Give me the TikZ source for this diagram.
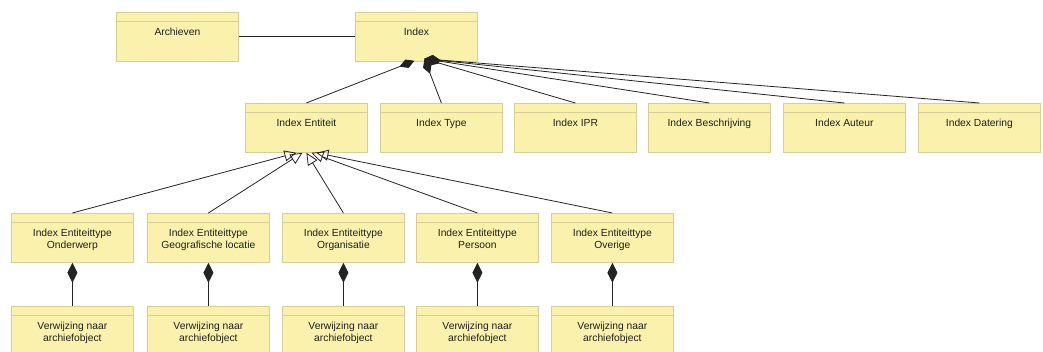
\documentclass[tikz,border=0pt]{standalone}
\usepackage{fontspec}
\setmainfont{Liberation Sans}
\usetikzlibrary{arrows.meta}
\definecolor{clsfill}{RGB}{250,242,172}
\definecolor{clsline}{RGB}{214,206,150}
\definecolor{wire}{RGB}{35,35,35}
\definecolor{ink}{RGB}{30,30,30}

\tikzset{
  cls/.style={draw=clsline, fill=clsfill, line width=0.8pt,
    minimum width=122pt, minimum height=49pt, inner sep=0pt, anchor=north west,
    path picture={\draw[clsline, line width=0.8pt]
      ([yshift=-9pt]path picture bounding box.north west) --
      ([yshift=-9pt]path picture bounding box.north east);}},
  lbl/.style={anchor=north, inner sep=0pt, align=center, text=ink,
    font=\fontsize{10.3}{12}\selectfont},
  wirel/.style={draw=wire, line width=0.8pt},
  comp/.style={wirel, {Diamond[length=16pt,width=9pt]}-},
  compsmall/.style={wirel, {Diamond[length=20pt,width=10pt]}-},
  gen/.style={wirel, {Triangle[open,length=12pt,width=11pt]}-},
}

\begin{document}
\begin{tikzpicture}[x=1pt,y=-1pt]
  \useasboundingbox (0,0) rectangle (1043,352);
  \clip (0,0) rectangle (1043,352);

  % top row
  \node[cls] (arch) at (116,12) {};
  \node[cls] (idx)  at (355,12) {};

  % attributes of Index
  \node[cls] (ent) at (245,103) {};
  \node[cls] (typ) at (380,103) {};
  \node[cls] (ipr) at (514,103) {};
  \node[cls] (bes) at (648,103) {};
  \node[cls] (aut) at (783,103) {};
  \node[cls] (dat) at (918,103) {};

  % entity types
  \node[cls] (ond) at (11,213) {};
  \node[cls] (geo) at (147,213) {};
  \node[cls] (org) at (282,213) {};
  \node[cls] (per) at (416,213) {};
  \node[cls] (ovr) at (551,213) {};

  % references
  \node[cls] (v1) at (11,306) {};
  \node[cls] (v2) at (147,306) {};
  \node[cls] (v3) at (282,306) {};
  \node[cls] (v4) at (416,306) {};
  \node[cls] (v5) at (551,306) {};

  % labels
  \node[lbl] (archT) at ([yshift=-15.5pt]arch.north) {Archieven};
  \node[lbl] (idxT)  at ([yshift=-15.5pt]idx.north)  {Index};
  \node[lbl] (entT) at ([yshift=-15.5pt]ent.north) {Index Entiteit};
  \node[lbl] (typT) at ([yshift=-15.5pt]typ.north) {Index Type};
  \node[lbl] (iprT) at ([yshift=-15.5pt]ipr.north) {Index IPR};
  \node[lbl] (besT) at ([yshift=-15.5pt]bes.north) {Index Beschrijving};
  \node[lbl] (autT) at ([yshift=-15.5pt]aut.north) {Index Auteur};
  \node[lbl] (datT) at ([yshift=-15.5pt]dat.north) {Index Datering};
  \node[lbl] (ondT) at ([yshift=-16pt]ond.north) {Index Entiteittype\\Onderwerp};
  \node[lbl] (geoT) at ([yshift=-16pt]geo.north) {Index Entiteittype\\Geografische locatie};
  \node[lbl] (orgT) at ([yshift=-16pt]org.north) {Index Entiteittype\\Organisatie};
  \node[lbl] (perT) at ([yshift=-16pt]per.north) {Index Entiteittype\\Persoon};
  \node[lbl] (ovrT) at ([yshift=-16pt]ovr.north) {Index Entiteittype\\Overige};
  \foreach \v in {v1,v2,v3,v4,v5}
    \node[lbl] (\v T) at ([yshift=-16pt]\v.north) {Verwijzing naar\\archiefobject};

  % association
  \draw[wirel] (arch.east) -- (idx.west);

  % compositions of Index
  \coordinate (idxA) at ([xshift=-2pt,yshift=1pt]idx.south);
  \coordinate (idxB) at ([xshift=8pt,yshift=3pt]idx.south);
  \draw[comp] (idxA) -- (ent.north);
  \draw[comp] (idxB) -- (typ.north);
  \draw[comp] (idxB) -- (ipr.north);
  \draw[comp] (idxB) -- (bes.north);
  \draw[comp] (idxB) -- (aut.north);
  \draw[comp] (idxB) -- (dat.north);

  % generalisations of Index Entiteit
  \coordinate (entA) at ([xshift=-10pt]ent.south);
  \coordinate (entB) at ([xshift=-4pt]ent.south);
  \coordinate (entC) at (ent.south);
  \coordinate (entD) at ([xshift=5pt]ent.south);
  \coordinate (entE) at ([xshift=10pt]ent.south);
  \draw[gen] (entA) -- (ond.north);
  \draw[gen] (entB) -- (geo.north);
  \draw[gen] (entC) -- (org.north);
  \draw[gen] (entD) -- (per.north);
  \draw[gen] (entE) -- (ovr.north);

  % entity types own their references
  \draw[compsmall] (ond.south) -- (v1.north);
  \draw[compsmall] (geo.south) -- (v2.north);
  \draw[compsmall] (org.south) -- (v3.north);
  \draw[compsmall] (per.south) -- (v4.north);
  \draw[compsmall] (ovr.south) -- (v5.north);
\end{tikzpicture}
\end{document}
